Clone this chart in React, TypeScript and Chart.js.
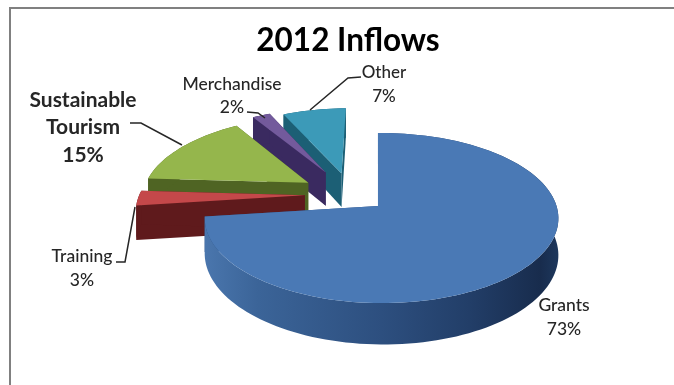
import React, { useEffect, useRef } from "react";
import { Chart, registerables } from "chart.js";

Chart.register(...registerables);

const categories = ["Grants", "Training", "Sustainable Tourism", "Merchandise", "Other"];
const shares = [73, 3, 15, 2, 7];
// Explosion of each slice, as a percentage of the pie radius.
const explosion = [21.3, 27, 30, 33, 28];
const topColors = ["#4a79b5", "#c4484a", "#95b64c", "#735a9c", "#3c9ab8"];
const wallColors = ["#2d4f7f", "#5f1a1c", "#4f6423", "#3a2a60", "#1c5f75"];

// Where each slice's caption sits: centre x, baselines, font weight and size.
const captions = [
  { lines: ["Grants"], x: 564, y: [311, 335], font: "500 17.5px" },
  { lines: ["Training"], x: 82, y: [262, 286], font: "500 17.5px" },
  { lines: ["Sustainable", "Tourism"], x: 83, y: [107, 134, 162], font: "bold 21px" },
  { lines: ["Merchandise"], x: 232, y: [90, 113], font: "500 17.5px" },
  { lines: ["Other"], x: 384, y: [78, 102], font: "500 17px" },
];
const leaders = [
  [],
  [[116, 262], [125, 262], [135, 207]],
  [[130, 123], [141, 123], [182, 145]],
  [[247, 112], [258, 113], [265, 118]],
  [[310, 110], [348, 78], [361, 77]],
];

// Projection of the pie's ground plane onto the canvas.
const view = { x0: 378, y0: 206, sx: 175, sy: 83.3, k: 0.141, j: -0.02, depth: 35.5, u0: -0.16, v0: 0.14 };

function project(u: number, v: number, drop = 0): [number, number] {
  const pu = u + view.u0;
  const pv = v + view.v0;
  const w = 1 + view.k * pv + view.j * pu;
  return [view.x0 + (view.sx * pu) / w, view.y0 + (drop - view.sy * pv) / w];
}

function tracePolygon(ctx: CanvasRenderingContext2D, pts: [number, number][]) {
  ctx.beginPath();
  pts.forEach(([x, y], i) => (i ? ctx.lineTo(x, y) : ctx.moveTo(x, y)));
  ctx.closePath();
}

// Extruded slices, built from the angles the doughnut controller computes.
const pie3d = {
  id: "pie3d",
  beforeDatasetDraw(chart: any) {
    const ctx: CanvasRenderingContext2D = chart.ctx;
    const arcs = chart.getDatasetMeta(0).data;
    for (let i = arcs.length - 1; i >= 0; i--) {
      const el = arcs[i];
      const { startAngle, endAngle } = el.getProps(["startAngle", "endAngle"], true);
      const mid = (startAngle + endAngle) / 2;
      const e = el.options.offset / 100;
      const cu = Math.cos(mid) * e;
      const cv = -Math.sin(mid) * e;
      const rim: [number, number][] = [];
      const n = Math.max(4, Math.ceil(((endAngle - startAngle) * 180) / Math.PI / 2));
      for (let s = 0; s <= n; s++) {
        const a = startAngle + ((endAngle - startAngle) * s) / n;
        rim.push([cu + Math.cos(a), cv - Math.sin(a)]);
      }
      const top = rim.map(([u, v]) => project(u, v));
      const low = rim.map(([u, v]) => project(u, v, view.depth));
      const apexTop = project(cu, cv);
      const apexLow = project(cu, cv, view.depth);

      ctx.fillStyle = wallColors[i];
      tracePolygon(ctx, [apexTop, top[0], low[0], apexLow]);
      ctx.fill();
      tracePolygon(ctx, [apexTop, top[n], low[n], apexLow]);
      ctx.fill();

      if (i === 0) {
        const g = ctx.createLinearGradient(205, 0, 558, 0);
        g.addColorStop(0, "#4a76ad");
        g.addColorStop(0.15, "#3b6498");
        g.addColorStop(0.5, "#2d4f7f");
        g.addColorStop(0.75, "#223e68");
        g.addColorStop(0.95, "#182c4d");
        g.addColorStop(1, "#1d375c");
        ctx.fillStyle = g;
      }
      tracePolygon(ctx, [...top, ...low.slice().reverse()]);
      ctx.fill();

      ctx.fillStyle = el.options.backgroundColor;
      tracePolygon(ctx, [apexTop, ...top]);
      ctx.fill();
    }
    return false;
  },
  afterDatasetsDraw(chart: any) {
    const ctx: CanvasRenderingContext2D = chart.ctx;
    ctx.save();
    ctx.textAlign = "center";
    ctx.textBaseline = "alphabetic";
    ctx.fillStyle = "#262626";
    captions.forEach((c, i) => {
      ctx.font = `${c.font} Lato`;
      const text = [...c.lines, `${shares[i]}%`];
      text.forEach((t, l) => ctx.fillText(t, c.x, c.y[l]));
    });
    ctx.strokeStyle = "#262626";
    ctx.lineWidth = 1.5;
    leaders.forEach((path) => {
      if (!path.length) return;
      ctx.beginPath();
      path.forEach(([x, y], k) => (k ? ctx.lineTo(x, y) : ctx.moveTo(x, y)));
      ctx.stroke();
    });
    ctx.restore();
  },
};

export default function App() {
  const ref = useRef<HTMLCanvasElement>(null);
  useEffect(() => {
    const chart = new Chart(ref.current!, {
      type: "pie",
      data: {
        labels: categories,
        datasets: [{ data: shares, backgroundColor: topColors, offset: explosion, borderWidth: 0 }],
      },
      options: {
        responsive: false,
        animation: false,
        events: [],
        layout: { padding: { left: 22 } },
        plugins: {
          legend: { display: false },
          tooltip: { enabled: false },
          title: {
            display: true,
            text: "2012 Inflows",
            color: "#000000",
            font: { family: "Lato", weight: "bold", size: 31.5 },
            padding: { top: 22, bottom: 8 },
          },
        },
      },
      plugins: [pie3d],
    });
    return () => chart.destroy();
  }, []);
  return (
    <div style={{ position: "fixed", left: 0, top: 0, width: 674, height: 385, background: "#fff", overflow: "hidden" }}>
      <canvas ref={ref} width={674} height={385} style={{ display: "block" }} />
      <div style={{ position: "absolute", left: 9, top: 7, right: 0, bottom: 0, borderTop: "2px solid #808080", borderLeft: "2px solid #808080" }} />
    </div>
  );
}
